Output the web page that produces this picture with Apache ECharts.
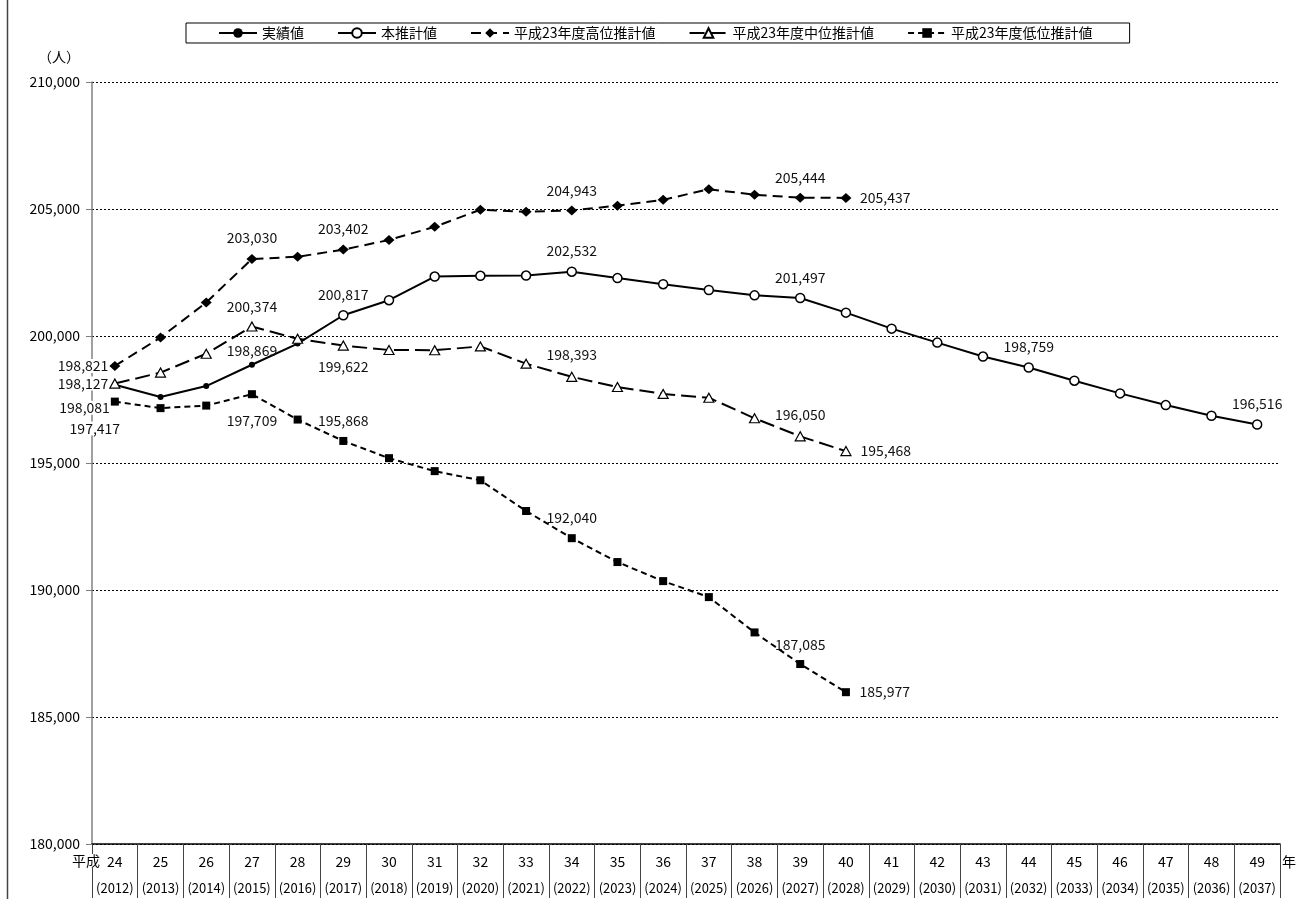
<!DOCTYPE html>
<html>
<head>
<meta charset="utf-8">
<script src="https://cdn.jsdelivr.net/npm/echarts@6/dist/echarts.min.js"></script>
<style>
  html, body { margin: 0; padding: 0; background: #fff; }
  #chart { width: 1296px; height: 899px; }
</style>
</head>
<body>
<div id="chart"></div>
<script>
// 和暦 / 西暦
const years = ['24','25','26','27','28','29','30','31','32','33','34','35','36',
               '37','38','39','40','41','42','43','44','45','46','47','48','49'];
const westernYears = ['2012','2013','2014','2015','2016','2017','2018','2019','2020',
                      '2021','2022','2023','2024','2025','2026','2027','2028','2029',
                      '2030','2031','2032','2033','2034','2035','2036','2037'];

// 実績値 (runs into the first projected year so the solid line joins)
const actual = [198081, 197600, 198030, 198869, 199700, 200817,
                null, null, null, null, null, null, null, null, null, null,
                null, null, null, null, null, null, null, null, null, null];
// 本推計値
const projection = [null, null, null, null, null, 200817,
                    201410, 202340, 202370, 202380, 202532, 202280, 202040, 201810,
                    201600, 201497, 200920, 200290, 199740, 199190, 198759, 198240,
                    197740, 197280, 196860, 196516];
// 平成23年度 高位 / 中位 / 低位 推計値
const highH23 = [198821, 199940, 201320, 203030, 203120, 203402, 203780, 204300, 204970,
                 204890, 204943, 205130, 205360, 205780, 205560, 205444, 205437,
                 null, null, null, null, null, null, null, null, null];
const midH23 = [198127, 198560, 199300, 200374, 199890, 199622, 199450, 199440, 199590,
                198910, 198393, 197990, 197720, 197570, 196760, 196050, 195468,
                null, null, null, null, null, null, null, null, null];
const lowH23 = [197417, 197160, 197260, 197709, 196710, 195868, 195190, 194680, 194320,
                193110, 192040, 191100, 190350, 189720, 188330, 187085, 185977,
                null, null, null, null, null, null, null, null, null];

const yTicks = { min: 180000, max: 210000, step: 5000 };

const FONT = '"Noto Sans CJK JP", "Noto Sans", sans-serif';
const fmt = v => Number(v).toLocaleString('en-US');

// which points carry a value label: index -> [position, distance, offsetX, offsetY, whiteBg]
function withLabels(values, marks) {
    return values.map((v, i) => {
        if (v == null) return null;
        const m = marks[i];
        if (!m) return v;
        return {
            value: v,
            label: {
                show: true,
                position: m[0],
                distance: m[1],
                offset: [m[2] || 0, m[3] || 0],
                backgroundColor: m[4] ? '#fff' : 'transparent'
            }
        };
    });
}

const baseLabel = {
    show: false,
    formatter: p => fmt(p.value),
    fontFamily: FONT,
    fontSize: 14,
    color: '#111'
};

const chart = echarts.init(document.getElementById('chart'));

const option = {
    animation: false,
    textStyle: { fontFamily: FONT },
    grid: { left: 92, right: 16, top: 82, bottom: 55 },
    legend: {
        top: 23,
        left: 186,
        padding: [3, 37, 3, 32],
        borderColor: '#000',
        borderWidth: 1,
        itemWidth: 38,
        itemHeight: 12,
        itemGap: 33,
        textStyle: { fontFamily: FONT, fontSize: 14, color: '#000' },
        data: ['実績値', '本推計値', '平成23年度高位推計値', '平成23年度中位推計値', '平成23年度低位推計値']
    },
    xAxis: {
        type: 'category',
        data: years,
        boundaryGap: true,
        axisLine: { lineStyle: { color: '#000', width: 1.5 } },
        axisTick: { show: true, interval: 0, length: 54, lineStyle: { color: '#444', width: 1 } },
        axisLabel: {
            interval: 0,
            margin: 4,
            formatter: (val, idx) => '{a|' + val + '}\n{b|(' + westernYears[idx] + ')}',
            rich: {
                a: { fontFamily: FONT, fontSize: 14, lineHeight: 27, color: '#000' },
                b: { fontFamily: FONT, fontSize: 13, lineHeight: 27, color: '#000' }
            }
        },
        splitLine: { show: false }
    },
    yAxis: {
        type: 'value',
        min: yTicks.min,
        max: yTicks.max,
        interval: yTicks.step,
        axisLine: { show: true, lineStyle: { color: '#808080', width: 1.5 } },
        axisTick: { show: true, length: 6, lineStyle: { color: '#808080' } },
        axisLabel: { margin: 12, fontFamily: FONT, fontSize: 14, color: '#000', formatter: v => fmt(v) },
        splitLine: { show: true, lineStyle: { color: '#000', width: 1, type: [2, 2] } }
    },
    graphic: [
        { type: 'line', z: 100, shape: { x1: 7.5, y1: 0, x2: 7.5, y2: 899 }, style: { stroke: '#444', lineWidth: 1.5 } },
        { type: 'text', z: 100, x: 80, y: 57,
          style: { text: '（人）', fontFamily: FONT, fontSize: 14, fill: '#000', align: 'right', verticalAlign: 'middle' } },
        { type: 'text', z: 100, x: 72, y: 861,
          style: { text: '平成', fontFamily: FONT, fontSize: 14, fill: '#000', align: 'left', verticalAlign: 'middle',
                   backgroundColor: '#fff' } },
        { type: 'text', z: 100, x: 1282, y: 862,
          style: { text: '年', fontFamily: FONT, fontSize: 14, fill: '#000', align: 'left', verticalAlign: 'middle' } }
    ],
    series: [
        {
            name: '実績値',
            type: 'line',
            z: 3,
            symbol: 'circle',
            symbolSize: 6,
            itemStyle: { color: '#000' },
            lineStyle: { color: '#000', width: 2 },
            label: baseLabel,
            data: withLabels(actual, { 0: ['left', 2, 0, 23, true], 3: ['top', 4] })
        },
        {
            name: '本推計値',
            type: 'line',
            z: 4,
            symbol: 'circle',
            symbolSize: 9,
            itemStyle: { color: '#fff', borderColor: '#000', borderWidth: 1.5 },
            lineStyle: { color: '#000', width: 2 },
            label: baseLabel,
            data: withLabels(projection, {
                5: ['top', 8.5], 10: ['top', 9], 15: ['top', 8.5], 20: ['top', 9], 25: ['top', 9]
            })
        },
        {
            name: '平成23年度高位推計値',
            type: 'line',
            z: 3,
            symbol: 'diamond',
            symbolSize: [11, 10],
            itemStyle: { color: '#000' },
            lineStyle: { color: '#000', width: 2, type: [10, 6] },
            label: baseLabel,
            data: withLabels(highH23, {
                0: ['left', 1, 0, 0, true], 3: ['top', 9], 5: ['top', 8.5], 10: ['top', 7.5],
                15: ['top', 8], 16: ['right', 8.5]
            })
        },
        {
            name: '平成23年度中位推計値',
            type: 'line',
            z: 3,
            symbol: 'triangle',
            symbolSize: [10, 9],
            itemStyle: { color: '#fff', borderColor: '#000', borderWidth: 1.2 },
            lineStyle: { color: '#000', width: 2, type: [15, 6] },
            label: baseLabel,
            data: withLabels(midH23, {
                0: ['left', 1, 0, 0, true], 3: ['top', 8], 5: ['bottom', 9.5], 10: ['top', 10],
                15: ['top', 9.5], 16: ['right', 9]
            })
        },
        {
            name: '平成23年度低位推計値',
            type: 'line',
            z: 3,
            symbol: 'rect',
            symbolSize: 8,
            itemStyle: { color: '#000' },
            lineStyle: { color: '#000', width: 2, type: [6, 4] },
            label: baseLabel,
            data: withLabels(lowH23, {
                0: ['bottom', 16, -20, 0, true], 3: ['bottom', 15.5], 5: ['top', 9], 10: ['top', 9],
                15: ['top', 8], 16: ['right', 9.5]
            })
        }
    ]
};

option && chart.setOption(option);
</script>
</body>
</html>
